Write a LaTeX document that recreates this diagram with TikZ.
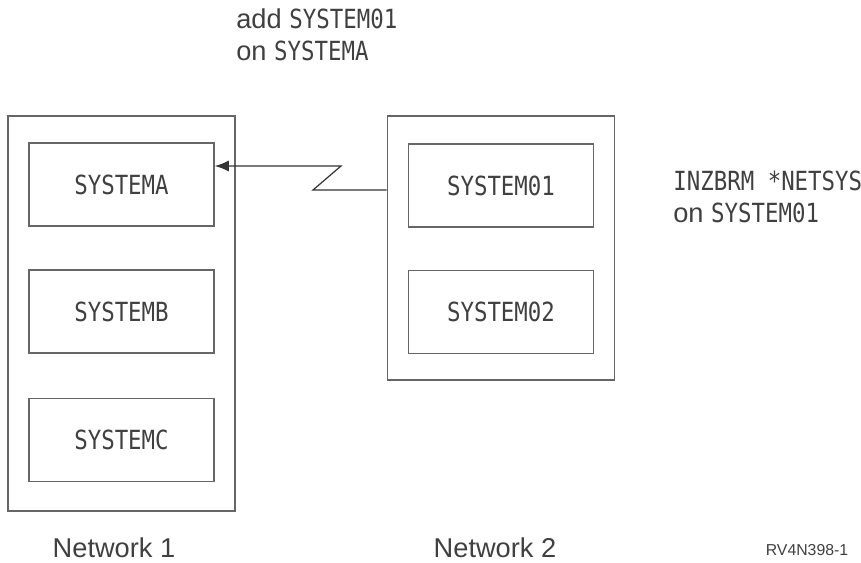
\documentclass[tikz,border=0pt]{standalone}
\usepackage{fontspec}
\setmainfont{Liberation Sans}
\newfontfamily\sysfont[FakeStretch=0.85]{DejaVu Sans Mono}
\usetikzlibrary{positioning, arrows.meta, calc}
\definecolor{linegray}{gray}{0.40}
\definecolor{textgray}{gray}{0.25}

\begin{document}
\begin{tikzpicture}[
	netbox/.style={draw=linegray, line width=0.9pt, rectangle, minimum width=4.54cm},
	sysbox/.style={draw=linegray, line width=0.9pt, rectangle, minimum width=3.70cm,
		minimum height=1.66cm, text=textgray, font=\sysfont\fontsize{15}{18}\selectfont},
	note/.style={text=textgray, align=left, inner sep=0pt, font=\fontsize{15.5}{18}\selectfont}
	]
	\useasboundingbox (0,0) rectangle (17.22,-11.26);
	
	% network 1
	\node (net1) at (2.43,-6.27) [netbox, minimum height=7.90cm]{};
	\node (sysA) at (2.43,-3.69) [sysbox]{SYSTEMA};
	\node (sysB) at (2.43,-6.23) [sysbox]{SYSTEMB};
	\node (sysC) at (2.43,-8.80) [sysbox]{SYSTEMC};
	
	% network 2
	\node (net2) at (10.02,-4.96) [netbox, minimum height=5.28cm]{};
	\node (sys01) at (10.02,-3.71) [sysbox]{SYSTEM01};
	\node (sys02) at (10.02,-6.24) [sysbox]{SYSTEM02};
	
	% link
	\coordinate (zz1) at (6.26,-3.80);
	\coordinate (zz2) at (6.82,-3.32);
	\draw[draw=black!80, line width=0.7pt, -{Latex[length=2.8mm, width=2.2mm]}]
		(zz1 -| net2.west) -- (zz1) -- (zz2) -- (zz2 -| sysA.east);
	
	\node (addlbl) at (4.72,-0.70) [note, anchor=west]{add {\sysfont\fontsize{15}{18}\selectfont SYSTEM01}\\on {\sysfont\fontsize{15}{18}\selectfont SYSTEMA}};
	\node (inzlbl) at (13.46,-3.94) [note, anchor=west]{{\sysfont\fontsize{15}{18}\selectfont INZBRM *NETSYS}\\on {\sysfont\fontsize{15}{18}\selectfont SYSTEM01}};
	
	\node (netlbl1) at (2.28,-10.96) [note]{Network 1};
	\node (netlbl2) at (9.90,-10.96) [note]{Network 2};
	\node (figid) at (16.14,-11.00) [note, font=\fontsize{9}{10}\selectfont]{RV4N398-1};
	
\end{tikzpicture}
\end{document}
